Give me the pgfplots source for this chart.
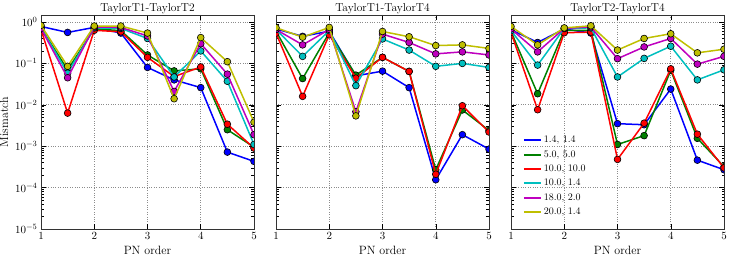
\documentclass[border=0pt]{standalone}
\usepackage{pgfplots}
\pgfplotsset{compat=1.18}
\usepackage{pgfplotstable}

\definecolor{cB}{rgb}{0,0,1}
\definecolor{cG}{rgb}{0,0.5,0}
\definecolor{cR}{rgb}{1,0,0}
\definecolor{cC}{rgb}{0,0.75,0.75}
\definecolor{cM}{rgb}{0.75,0,0.75}
\definecolor{cY}{rgb}{0.75,0.75,0}

% columns: b = 1.4,1.4 ; g = 5.0,5.0 ; r = 10.0,10.0 ; c = 10.0,1.4 ; m = 18.0,2.0 ; y = 20.0,1.4
\pgfplotstableread{
x   b       g       r       c       m       y
1   0.78    0.72    0.66    0.72    0.70    0.83
1.5 0.56    0.07    0.0063  0.058   0.045   0.085
2   0.74    0.68    0.63    0.72    0.76    0.80
2.5 0.54    0.62    0.58    0.70    0.74    0.80
3   0.08    0.16    0.14    0.40    0.46    0.54
3.5 0.040   0.066   0.048   0.047   0.021   0.014
4   0.026   0.074   0.082   0.20    0.30    0.42
4.5 7.2e-4  2.5e-3  3.4e-3  0.037   0.055   0.11
5   4.3e-4  9.5e-4  9.0e-4  1.1e-3  1.9e-3  3.8e-3
}\tA

\pgfplotstableread{
x   b       g       r       c       m       y
1   0.68    0.60    0.54    0.66    0.66    0.73
1.5 0.45    0.043   0.016   0.148   0.28    0.43
2   0.60    0.55    0.49    0.62    0.66    0.74
2.5 0.050   0.052   0.044   0.029   0.0068  0.0054
3   0.065   0.14    0.14    0.39    0.51    0.59
3.5 0.026   0.064   0.064   0.21    0.32    0.44
4   1.55e-4 2.7e-4  2.1e-4  0.085   0.17    0.27
4.5 1.9e-3  7.5e-3  9.5e-3  0.10    0.19    0.28
5   8.5e-4  2.4e-3  2.2e-3  0.08    0.16    0.23
}\tB

\pgfplotstableread{
x   b       g       r       c       m       y
1   0.65    0.59    0.56    0.62    0.68    0.78
1.5 0.32    0.0185  0.0076  0.091   0.19    0.28
2   0.68    0.63    0.55    0.70    0.70    0.72
2.5 0.54    0.63    0.57    0.72    0.76    0.81
3   3.5e-3  1.1e-3  4.8e-4  0.047   0.13    0.21
3.5 3.3e-3  1.8e-3  3.6e-3  0.132   0.25    0.40
4   0.024   0.068   0.074   0.26    0.40    0.52
4.5 4.6e-4  1.55e-3 1.95e-3 0.040   0.096   0.18
5   2.7e-4  3.2e-4  3.0e-4  0.07    0.148   0.22
}\tC

\pgfplotsset{
  mypanel/.style={
    width=213pt, height=214pt, scale only axis,
    anchor=south west,
    xmin=1, xmax=5, ymin=1e-5, ymax=1.476,
    xtick={1,2,3,4,5},
    ytick={1e-5,1e-4,1e-3,1e-2,1e-1,1},
    grid=major,
    major grid style={dotted, black!45, line width=0.6pt},
    tick style={black, line width=0.5pt},
    major tick length=5pt, minor tick length=2.5pt,
    axis line style={black!80, line width=0.6pt},
    ticklabel style={font=\fontsize{11}{13}\selectfont},
    label style={font=\fontsize{12}{14}\selectfont},
    clip marker paths=true,
  },
  sr/.style={color=#1, line width=1.5pt, mark=*, mark size=3.4pt,
    mark options={fill=#1, draw=black, line width=0.6pt, solid}},
}

\newcommand{\sixplots}[1]{%
  \addplot[sr=cB] table[x=x,y=b]{#1};
  \addplot[sr=cG] table[x=x,y=g]{#1};
  \addplot[sr=cR] table[x=x,y=r]{#1};
  \addplot[sr=cC] table[x=x,y=c]{#1};
  \addplot[sr=cM] table[x=x,y=m]{#1};
  \addplot[sr=cY] table[x=x,y=y]{#1};
}

\begin{document}
\begin{tikzpicture}
\begin{semilogyaxis}[mypanel, name=ax1, at={(41pt,30pt)},
  xlabel={PN order}, ylabel={Mismatch}]
\sixplots{\tA}
\end{semilogyaxis}

\begin{semilogyaxis}[mypanel, name=ax2, at={(276pt,30pt)},
  xlabel={PN order}, yticklabels={}]
\sixplots{\tB}
\end{semilogyaxis}

\begin{semilogyaxis}[mypanel, name=ax3, at={(511pt,30pt)},
  xlabel={PN order}, yticklabels={},
  legend style={at={(0.055,0.445)}, anchor=north west, draw=none, fill=none,
    font=\fontsize{10}{12}\selectfont, row sep=2.2pt, inner sep=0pt,
    cells={anchor=west},
    /tikz/every even column/.append style={column sep=9pt}},
  legend image code/.code={\draw[#1, line width=2pt, line cap=butt] (0pt,0pt) -- (17pt,0pt);},
  ]
\sixplots{\tC}
\legend{{1.4, 1.4},{5.0, 5.0},{10.0, 10.0},{10.0, 1.4},{18.0, 2.0},{20.0, 1.4}}
\end{semilogyaxis}

\begin{scope}[every node/.style={anchor=base, inner sep=0pt, font=\fontsize{11.5}{13}\selectfont}]
\node at ([yshift=3.3pt]ax1.north) {TaylorT1-TaylorT2};
\node at ([yshift=3.3pt]ax2.north) {TaylorT1-TaylorT4};
\node at ([yshift=3.3pt]ax3.north) {TaylorT2-TaylorT4};
\end{scope}
\pgfresetboundingbox
\path[use as bounding box] (0,0) rectangle (731pt,259pt);
\end{tikzpicture}
\end{document}
